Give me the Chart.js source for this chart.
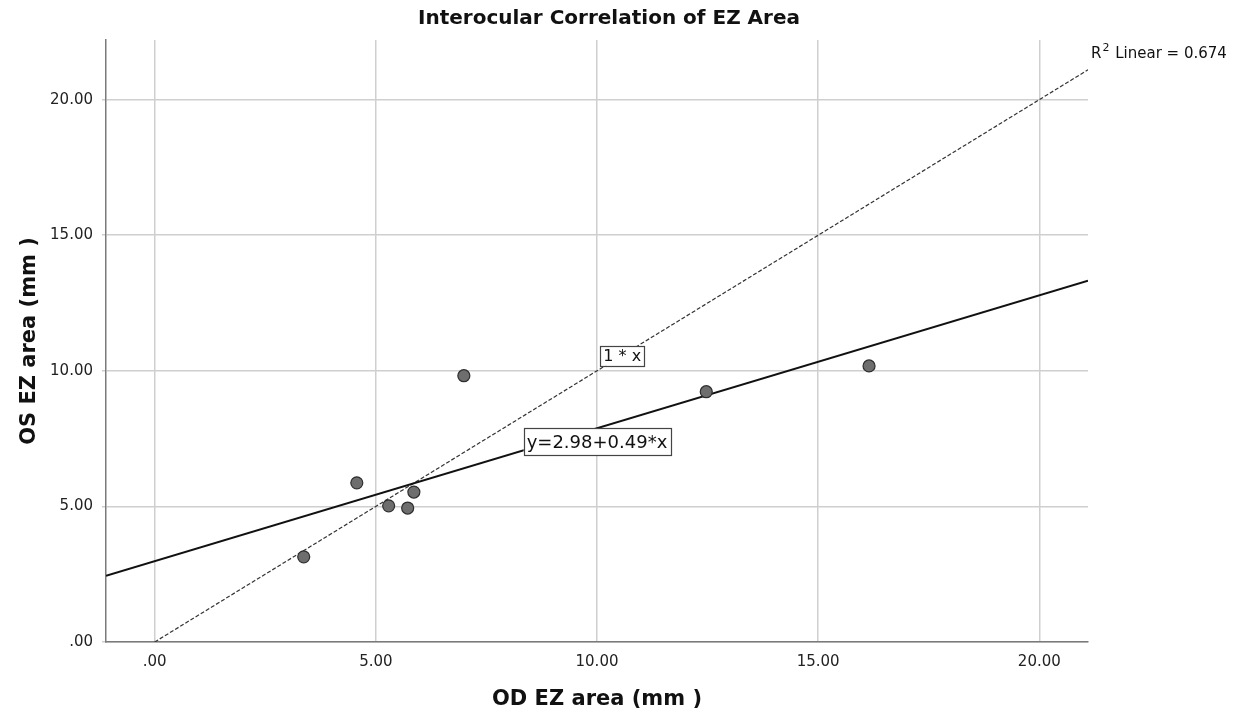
<!DOCTYPE html>
<html><head><meta charset="utf-8">
<script src="https://cdn.jsdelivr.net/npm/chart.js@4.4.1/dist/chart.umd.min.js"></script>
<style>html,body{margin:0;padding:0;background:#fff;}#wrap{width:1244px;height:719px;}</style>
</head><body><div id="wrap"><canvas id="c" width="1244" height="719"></canvas></div>
<script>
// ---- data ----
const odArea = [3.37, 4.57, 5.29, 5.72, 5.86, 6.99, 12.47, 16.15];
const osArea = [3.14, 5.87, 5.02, 4.94, 5.53, 9.82, 9.23, 10.18];
const fitIntercept = 2.98;
const fitSlope = 0.49;
const rSquared = 0.674;
const xTickValues = [0, 5, 10, 15, 20];
const yTickValues = [0, 5, 10, 15, 20];
const titleText = 'Interocular Correlation of EZ Area';
const xTitle = 'OD EZ area (mm )';
const yTitle = 'OS EZ area (mm )';
const fitLabel = 'y=' + fitIntercept.toFixed(2) + '+' + fitSlope.toFixed(2) + '*x';
const identityLabel = '1 * x';

// ---- layout constants ----
const xRange = [-1.1, 21.1];
const yRange = [0, 22.2];
const FONT = '"DejaVu Sans", sans-serif';

const fmt = v => v.toFixed(2).replace(/^0\./, '.');

const points = odArea.map((v, i) => ({x: v, y: osArea[i]}));
const fitLine = [xRange[0], xRange[1]].map(v => ({x: v, y: fitIntercept + fitSlope * v}));
const identityLine = [0, xRange[1]].map(v => ({x: v, y: v}));

const overlay = {
  id: 'overlay',
  afterDatasetsDraw(chart) {
    const {ctx, chartArea: ca, scales: {x, y}} = chart;
    ctx.save();
    // title
    ctx.font = 'bold 20px ' + FONT;
    ctx.fillStyle = '#111';
    ctx.textAlign = 'center';
    ctx.textBaseline = 'middle';
    ctx.fillText(titleText, (ca.left + ca.right) / 2 + 12, 19);

    function box(text, dx, dy, size, h) {
      const px = x.getPixelForValue(dx), py = y.getPixelForValue(dy);
      ctx.font = size + 'px ' + FONT;
      const w = ctx.measureText(text).width + 6;
      ctx.fillStyle = '#fff';
      ctx.fillRect(px - w / 2, py - h / 2, w, h);
      ctx.strokeStyle = '#444';
      ctx.lineWidth = 1.2;
      ctx.strokeRect(Math.round(px - w / 2) + 0.5, Math.round(py - h / 2) + 0.5, Math.round(w), h);
      ctx.fillStyle = '#111';
      ctx.textAlign = 'center';
      ctx.textBaseline = 'middle';
      ctx.fillText(text, px, py + 1);
    }
    box(identityLabel, 10.57, 10.55, 16, 20);
    box(fitLabel, 10.0, 7.38, 18, 27);

    // R2 label
    const rx = ca.right + 3;
    const ry = 58;
    ctx.textAlign = 'left';
    ctx.textBaseline = 'alphabetic';
    ctx.fillStyle = '#111';
    ctx.font = '15px ' + FONT;
    ctx.fillText('R', rx, ry);
    let wR = ctx.measureText('R').width;
    ctx.font = '11px ' + FONT;
    ctx.fillText('2', rx + wR + 1, ry - 7);
    let w2 = ctx.measureText('2').width;
    ctx.font = '15px ' + FONT;
    ctx.fillText(' Linear = ' + rSquared.toFixed(3), rx + wR + w2 + 2, ry);
    ctx.restore();
  }
};

new Chart(document.getElementById('c'), {
  type: 'scatter',
  data: {
    datasets: [
      {
        label: 'identity', type: 'line', data: identityLine,
        borderColor: '#333', borderWidth: 1.2, borderDash: [4, 2],
        pointRadius: 0, fill: false, order: 3
      },
      {
        label: 'fit', type: 'line', data: fitLine,
        borderColor: '#111', borderWidth: 2,
        pointRadius: 0, fill: false, order: 2
      },
      {
        label: 'OD vs OS', data: points,
        backgroundColor: '#6e6e6e', borderColor: '#2e2e2e', borderWidth: 1.2,
        pointRadius: 6, order: 1
      }
    ]
  },
  options: {
    responsive: false,
    animation: false,
    devicePixelRatio: 1,
    layout: {padding: {left: 0, right: 156, top: 40, bottom: 0}},
    plugins: {legend: {display: false}, tooltip: {enabled: false}, title: {display: false}},
    scales: {
      x: {
        type: 'linear', min: xRange[0], max: xRange[1],
        afterBuildTicks: s => { s.ticks = xTickValues.map(v => ({value: v})); },
        afterFit: s => { s.height = 77; },
        grid: {color: '#cfcfcf', lineWidth: 1.5, drawTicks: false},
        border: {color: '#7a7a7a', width: 1.5},
        ticks: {callback: v => fmt(v), color: '#222', font: {family: FONT, size: 15}, padding: 11, maxRotation: 0, autoSkip: false},
        title: {display: true, text: xTitle, color: '#111', font: {family: FONT, size: 21, weight: 'bold'}, padding: {top: 0, bottom: 7}}
      },
      y: {
        type: 'linear', min: yRange[0], max: yRange[1],
        afterBuildTicks: s => { s.ticks = yTickValues.map(v => ({value: v})); },
        afterFit: s => { s.width = 106; },
        grid: {color: '#cfcfcf', lineWidth: 1.5, drawTicks: true, tickLength: 4},
        border: {color: '#7a7a7a', width: 1.5},
        ticks: {callback: v => fmt(v), color: '#222', font: {family: FONT, size: 15}, padding: 9, autoSkip: false},
        title: {display: true, text: yTitle, color: '#111', font: {family: FONT, size: 21, weight: 'bold'}, padding: {top: 17, bottom: 0}}
      }
    }
  },
  plugins: [overlay]
});
</script>
</body></html>
